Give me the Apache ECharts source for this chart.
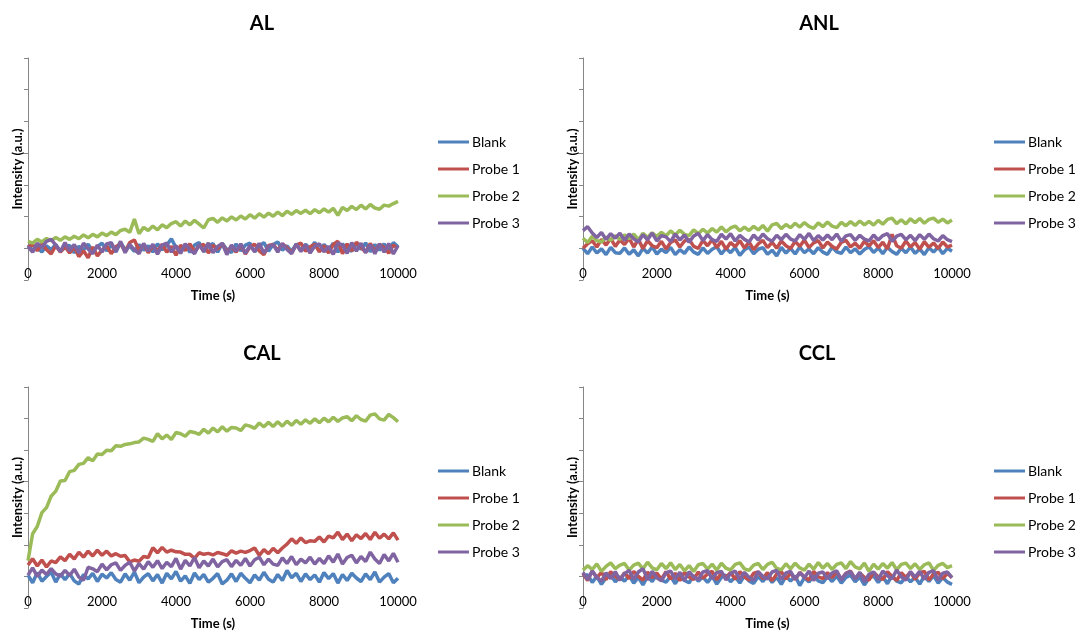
<!DOCTYPE html>
<html>
<head>
<meta charset="utf-8">
<title>Intensity vs time</title>
<script src="https://cdn.jsdelivr.net/npm/echarts@6/dist/echarts.min.js"></script>
<style>
  html, body { margin: 0; padding: 0; background: #fff; }
  #chart { width: 1077px; height: 632px; }
</style>
</head>
<body>
<div id="chart"></div>
<script>
/* ── data (intensity in y-tick units) ── */
const times = [
  0, 125, 250, 375, 500, 625, 750, 875, 1000,
  1125, 1250, 1375, 1500, 1625, 1750, 1875, 2000, 2125,
  2250, 2375, 2500, 2625, 2750, 2875, 3000, 3125, 3250,
  3375, 3500, 3625, 3750, 3875, 4000, 4125, 4250, 4375,
  4500, 4625, 4750, 4875, 5000, 5125, 5250, 5375, 5500,
  5625, 5750, 5875, 6000, 6125, 6250, 6375, 6500, 6625,
  6750, 6875, 7000, 7125, 7250, 7375, 7500, 7625, 7750,
  7875, 8000, 8125, 8250, 8375, 8500, 8625, 8750, 8875,
  9000, 9125, 9250, 9375, 9500, 9625, 9750, 9875, 10000
];
const seriesNames = ['Blank', 'Probe 1', 'Probe 2', 'Probe 3'];
const panelTitles = ['AL', 'ANL', 'CAL', 'CCL'];
const xTicks = [0, 2000, 4000, 6000, 8000, 10000];

// AL
const alBlank = [
  0.10, -0.06, 0.04, -0.12, 0.08, -0.04, 0.12, -0.10, 0.02,
  0.09, -0.14, 0.06, -0.05, 0.13, -0.11, 0.05, 0.16, -0.08,
  0.11, -0.12, 0.18, -0.04, 0.07, -0.10, 0.12, -0.06, 0.08,
  -0.12, 0.14, -0.05, 0.10, 0.30, 0.02, -0.09, 0.12, -0.13,
  0.10, 0.18, -0.11, 0.06, 0.15, -0.12, 0.16, -0.04, -0.13,
  0.14, -0.08, 0.10, 0.16, -0.11, 0.07, 0.18, -0.09, 0.12,
  0.20, -0.06, 0.08, -0.10, 0.14, -0.07, 0.13, -0.02, 0.19,
  -0.10, 0.12, -0.05, 0.16, -0.12, 0.14, -0.03, -0.09, 0.15,
  -0.04, 0.17, -0.11, 0.12, -0.06, 0.14, -0.10, 0.18, 0.05
];
const alProbe1 = [
  0.04, 0.12, -0.08, 0.14, -0.04, -0.18, 0.08, -0.12, 0.06,
  -0.15, 0.05, -0.26, -0.08, -0.30, 0.04, -0.24, -0.06, 0.08,
  -0.17, 0.05, 0.14, -0.10, 0.18, 0.26, -0.06, 0.12, -0.14,
  0.08, -0.09, 0.13, -0.12, 0.06, -0.22, 0.10, -0.07, 0.14,
  -0.10, 0.07, 0.12, -0.15, 0.09, -0.03, 0.15, -0.11, 0.06,
  -0.12, 0.10, -0.18, 0.05, 0.13, -0.08, -0.20, 0.09, 0.12,
  -0.06, 0.14, 0.02, -0.13, 0.10, 0.16, -0.09, 0.05, 0.13,
  -0.11, 0.08, -0.15, 0.12, 0.22, -0.17, 0.14, -0.08, 0.19,
  0.04, -0.13, 0.15, -0.09, 0.13, 0.02, -0.15, 0.10, 0.00
];
const alProbe2 = [
  0.22, 0.16, 0.28, 0.20, 0.31, 0.24, 0.34, 0.25, 0.36,
  0.28, 0.38, 0.30, 0.42, 0.33, 0.44, 0.36, 0.48, 0.40,
  0.51, 0.43, 0.56, 0.60, 0.50, 0.92, 0.46, 0.66, 0.56,
  0.70, 0.58, 0.74, 0.65, 0.78, 0.84, 0.70, 0.86, 0.74,
  0.88, 0.76, 0.64, 0.90, 0.94, 0.82, 0.96, 0.86, 0.99,
  0.89, 1.02, 0.92, 1.06, 0.95, 1.09, 0.98, 1.11, 1.01,
  1.14, 1.03, 1.17, 1.07, 1.19, 1.10, 1.20, 1.09, 1.22,
  1.12, 1.24, 1.14, 1.26, 1.04, 1.29, 1.19, 1.32, 1.22,
  1.36, 1.24, 1.38, 1.27, 1.23, 1.36, 1.33, 1.41, 1.48
];
const alProbe3 = [
  0.05, -0.12, 0.16, 0.02, 0.22, 0.28, 0.10, -0.10, 0.18,
  -0.08, 0.12, -0.15, 0.16, -0.02, -0.17, 0.10, -0.12, 0.14,
  0.18, -0.10, 0.22, -0.14, 0.12, -0.04, -0.17, 0.15, -0.09,
  0.13, -0.19, 0.10, 0.16, -0.12, 0.08, -0.16, 0.14, -0.04,
  -0.17, 0.12, -0.10, 0.17, -0.14, 0.06, 0.15, -0.20, 0.10,
  -0.09, 0.14, -0.16, 0.09, -0.11, 0.16, -0.15, 0.05, 0.12,
  -0.12, 0.15, -0.04, -0.17, 0.13, -0.10, 0.11, -0.15, 0.07,
  0.14, -0.11, 0.06, -0.19, 0.16, 0.10, -0.16, 0.18, -0.09,
  0.16, -0.14, 0.11, -0.17, 0.14, -0.12, 0.15, -0.18, 0.08
];

// ANL
const anlBlank = [
  0.00, -0.17, 0.04, -0.15, -0.02, -0.20, 0.03, -0.14, -0.16,
  0.01, -0.19, -0.05, -0.24, 0.00, -0.15, 0.04, -0.18, -0.03,
  -0.14, 0.03, -0.20, -0.04, -0.16, 0.04, -0.12, -0.19, 0.01,
  -0.16, -0.03, 0.05, -0.18, 0.00, -0.14, 0.03, -0.22, -0.05,
  0.04, -0.17, -0.03, 0.02, -0.19, -0.06, -0.24, 0.03, -0.15,
  0.00, -0.18, 0.04, -0.14, -0.02, -0.17, 0.02, -0.12, -0.19,
  0.03, -0.11, -0.16, 0.04, -0.14, -0.02, -0.18, -0.04, 0.05,
  -0.13, 0.01, -0.17, 0.03, -0.10, -0.19, 0.00, -0.14, 0.04,
  -0.16, -0.02, -0.20, 0.02, -0.12, 0.03, -0.17, 0.00, -0.09
];
const anlProbe1 = [
  0.00, 0.14, 0.24, 0.04, 0.28, 0.10, 0.31, 0.06, 0.26,
  0.12, 0.32, 0.04, 0.28, -0.01, 0.24, 0.08, 0.02, 0.22,
  -0.02, 0.18, 0.26, 0.04, 0.23, 0.28, 0.06, 0.00, 0.25,
  0.08, 0.27, 0.02, 0.22, -0.03, 0.18, 0.05, 0.24, 0.01,
  0.20, -0.04, 0.14, 0.25, 0.02, 0.19, 0.00, 0.23, 0.08,
  -0.01, 0.22, 0.06, 0.26, 0.02, 0.17, 0.24, 0.01, 0.20,
  0.06, -0.02, 0.19, 0.25, 0.04, 0.16, 0.00, 0.22, 0.07,
  0.24, 0.02, 0.19, -0.02, 0.44, 0.08, 0.00, 0.23, 0.04,
  0.18, -0.03, 0.21, 0.03, 0.17, -0.01, 0.20, 0.04, 0.10
];
const anlProbe2 = [
  0.32, 0.18, 0.38, 0.24, 0.20, 0.35, 0.25, 0.40, 0.28,
  0.42, 0.30, 0.45, 0.27, 0.47, 0.34, 0.49, 0.37, 0.50,
  0.39, 0.55, 0.42, 0.57, 0.44, 0.40, 0.58, 0.46, 0.60,
  0.48, 0.62, 0.51, 0.67, 0.52, 0.64, 0.70, 0.55, 0.67,
  0.56, 0.69, 0.58, 0.72, 0.54, 0.74, 0.78, 0.62, 0.75,
  0.65, 0.79, 0.67, 0.81, 0.69, 0.63, 0.80, 0.68, 0.83,
  0.70, 0.65, 0.82, 0.71, 0.84, 0.72, 0.86, 0.74, 0.85,
  0.73, 0.88, 0.76, 0.91, 0.95, 0.78, 0.90, 0.77, 0.93,
  0.81, 0.94, 0.79, 0.91, 0.95, 0.82, 0.92, 0.80, 0.89
];
const anlProbe3 = [
  0.56, 0.68, 0.48, 0.34, 0.50, 0.28, 0.46, 0.32, 0.48,
  0.25, 0.45, 0.30, 0.20, 0.43, 0.27, 0.48, 0.23, 0.40,
  0.36, 0.21, 0.45, 0.26, 0.42, 0.19, 0.39, 0.47, 0.24,
  0.43, 0.27, 0.22, 0.44, 0.29, 0.46, 0.23, 0.41, 0.28,
  0.20, 0.42, 0.26, 0.45, 0.30, 0.22, 0.41, 0.27, 0.44,
  0.29, 0.23, 0.43, 0.28, 0.47, 0.24, 0.40, 0.26, 0.42,
  0.27, 0.45, 0.22, 0.39, 0.43, 0.25, 0.41, 0.29, 0.23,
  0.42, 0.26, 0.40, 0.46, 0.22, 0.38, 0.44, 0.27, 0.41,
  0.24, 0.43, 0.28, 0.45, 0.30, 0.23, 0.40, 0.27, 0.21
];

// CAL
const calBlank = [
  0.04, -0.20, 0.12, -0.15, 0.00, 0.14, -0.18, 0.08, -0.10,
  0.09, -0.14, -0.24, 0.06, -0.08, 0.10, -0.16, 0.07, -0.05,
  0.12, -0.10, -0.18, 0.08, -0.12, 0.14, -0.20, -0.02, 0.09,
  -0.14, 0.06, -0.21, 0.10, -0.08, 0.16, -0.15, 0.02, -0.22,
  0.11, -0.10, 0.06, -0.18, -0.06, 0.09, -0.24, -0.12, 0.08,
  -0.16, 0.10, -0.06, -0.20, 0.05, -0.12, 0.13, -0.09, -0.18,
  0.06, -0.13, 0.19, -0.04, 0.10, -0.16, 0.08, -0.10, 0.05,
  -0.18, 0.12, -0.07, 0.09, -0.21, 0.06, -0.13, 0.10, -0.05,
  -0.16, 0.08, -0.10, 0.14, -0.18, -0.02, 0.09, -0.20, -0.06
];
const calProbe1 = [
  0.36, 0.56, 0.33, 0.52, 0.30, 0.49, 0.44, 0.62, 0.50,
  0.70, 0.55, 0.77, 0.61, 0.80, 0.65, 0.83, 0.67, 0.80,
  0.65, 0.72, 0.64, 0.66, 0.46, 0.52, 0.48, 0.63, 0.60,
  0.91, 0.75, 0.92, 0.77, 0.83, 0.78, 0.77, 0.70, 0.70,
  0.57, 0.75, 0.70, 0.73, 0.68, 0.76, 0.72, 0.67, 0.81,
  0.74, 0.80, 0.76, 0.82, 0.90, 0.67, 0.85, 0.72, 0.89,
  0.75, 0.90, 1.02, 1.19, 1.05, 1.22, 1.07, 1.13, 1.11,
  1.25, 1.09, 1.28, 1.22, 1.40, 1.17, 1.34, 1.13, 1.32,
  1.20, 1.36, 1.17, 1.40, 1.21, 1.34, 1.19, 1.38, 1.15
];
const calProbe2 = [
  0.50, 1.35, 1.58, 2.02, 2.18, 2.54, 2.70, 3.02, 3.04,
  3.32, 3.36, 3.55, 3.58, 3.76, 3.66, 3.88, 3.86, 4.00,
  3.98, 4.14, 4.12, 4.18, 4.20, 4.24, 4.26, 4.38, 4.34,
  4.28, 4.52, 4.36, 4.48, 4.34, 4.56, 4.52, 4.44, 4.59,
  4.56, 4.50, 4.66, 4.54, 4.70, 4.58, 4.74, 4.60, 4.72,
  4.70, 4.62, 4.80, 4.76, 4.69, 4.86, 4.74, 4.88, 4.75,
  4.90, 4.76, 4.92, 4.79, 4.94, 4.82, 4.96, 4.85, 4.99,
  4.87, 5.01, 4.90, 5.04, 4.91, 5.02, 5.06, 4.93, 5.09,
  4.97, 4.92, 5.11, 5.15, 4.99, 4.95, 5.13, 5.03, 4.90
];
const calProbe3 = [
  0.04, 0.27, 0.00, 0.20, 0.06, 0.25, 0.08, 0.01, 0.19,
  0.03, 0.23, -0.02, -0.12, 0.29, 0.24, 0.15, 0.39, 0.21,
  0.37, 0.43, 0.19, 0.35, 0.45, 0.17, 0.41, 0.23, 0.47,
  0.29, 0.50, 0.25, 0.45, 0.31, 0.57, 0.23, 0.51, 0.33,
  0.60, 0.27, 0.49, 0.33, 0.55, 0.30, 0.47, 0.53, 0.31,
  0.51, 0.35, 0.57, 0.33, 0.53, 0.61, 0.37, 0.55, 0.39,
  0.35, 0.59, 0.41, 0.63, 0.37, 0.55, 0.43, 0.61, 0.39,
  0.57, 0.41, 0.65, 0.45, 0.71, 0.39, 0.60, 0.67, 0.43,
  0.63, 0.47, 0.77, 0.55, 0.41, 0.69, 0.49, 0.73, 0.45
];

// CCL
const cclBlank = [
  -0.02, 0.06, -0.19, 0.00, -0.25, -0.04, 0.05, -0.17, -0.01,
  -0.15, 0.03, -0.21, -0.02, -0.27, 0.00, -0.16, 0.06, -0.12,
  -0.18, 0.00, -0.23, 0.02, -0.13, -0.20, 0.03, -0.15, -0.02,
  -0.19, 0.01, -0.24, -0.03, 0.04, -0.17, -0.01, -0.21, 0.02,
  -0.14, -0.22, 0.00, -0.16, 0.03, -0.19, -0.03, -0.25, 0.01,
  -0.15, 0.02, -0.29, -0.04, -0.18, 0.03, -0.14, -0.20, 0.00,
  -0.16, 0.01, -0.21, -0.03, 0.04, -0.17, -0.02, -0.27, -0.05,
  0.02, -0.19, -0.01, -0.23, 0.03, -0.15, -0.20, 0.00, -0.17,
  -0.03, -0.24, 0.01, -0.16, 0.03, -0.21, -0.04, -0.18, -0.25
];
const cclProbe1 = [
  0.09, -0.13, 0.17, -0.04, 0.13, -0.10, 0.15, 0.00, -0.11,
  0.12, -0.07, 0.16, 0.00, -0.12, 0.14, -0.04, 0.11, -0.09,
  0.15, -0.08, 0.10, -0.13, 0.13, -0.02, -0.10, 0.14, -0.06,
  0.08, 0.16, -0.11, 0.11, -0.04, 0.13, -0.09, 0.15, -0.01,
  -0.12, 0.10, 0.14, -0.07, 0.12, -0.14, 0.08, 0.15, -0.08,
  0.11, -0.10, 0.13, -0.02, -0.11, 0.16, -0.01, -0.07, 0.12,
  -0.04, 0.14, -0.09, 0.10, 0.17, -0.08, 0.11, -0.03, -0.12,
  0.13, -0.01, -0.10, 0.15, 0.00, -0.13, 0.12, -0.03, 0.14,
  -0.09, 0.11, 0.16, -0.11, 0.07, 0.13, -0.07, 0.10, -0.04
];
const cclProbe2 = [
  0.20, 0.34, 0.22, 0.40, 0.16, 0.32, 0.43, 0.25, 0.36,
  0.41, 0.20, 0.36, 0.42, 0.24, 0.45, 0.27, 0.21, 0.41,
  0.25, 0.43, 0.22, 0.38, 0.18, 0.34, 0.16, 0.37, 0.41,
  0.23, 0.39, 0.20, 0.42, 0.26, 0.21, 0.38, 0.43, 0.24,
  0.19, 0.36, 0.41, 0.22, 0.38, 0.45, 0.25, 0.21, 0.40,
  0.24, 0.42, 0.27, 0.20, 0.39, 0.23, 0.44, 0.26, 0.41,
  0.22, 0.38, 0.43, 0.25, 0.47, 0.30, 0.24, 0.42, 0.16,
  0.39, 0.23, 0.41, 0.26, 0.44, 0.21, 0.38, 0.42, 0.25,
  0.40, 0.22, 0.37, 0.43, 0.19, 0.35, 0.41, 0.28, 0.34
];
const cclProbe3 = [
  0.13, -0.10, 0.17, -0.03, -0.15, 0.11, -0.07, 0.15, -0.12,
  0.09, 0.19, -0.09, 0.14, 0.25, -0.11, 0.16, -0.04, -0.14,
  0.11, 0.17, -0.08, 0.13, -0.13, 0.15, -0.02, -0.10, 0.14,
  0.18, -0.07, 0.12, 0.16, -0.11, 0.09, 0.17, -0.09, 0.13,
  -0.03, -0.12, 0.15, 0.00, -0.08, 0.14, 0.19, -0.10, 0.11,
  0.16, -0.09, 0.12, -0.04, 0.17, -0.13, 0.10, 0.14, -0.07,
  0.11, 0.18, -0.11, 0.09, 0.15, -0.08, 0.13, -0.17, 0.07,
  0.14, -0.10, 0.17, 0.02, -0.07, 0.20, -0.01, -0.12, 0.15,
  -0.02, 0.16, -0.09, 0.13, 0.18, -0.11, 0.10, 0.14, -0.04
];

const panelData = [
  [alBlank, alProbe1, alProbe2, alProbe3],
  [anlBlank, anlProbe1, anlProbe2, anlProbe3],
  [calBlank, calProbe1, calProbe2, calProbe3],
  [cclBlank, cclProbe1, cclProbe2, cclProbe3]
];

/* ── look ── */
const COLORS = ['#4F81BD', '#C0504D', '#9BBB59', '#8064A2'];
const FONT = "Lato, 'Noto Sans', sans-serif";
const AXIS_GRAY = '#868686';

// plot boxes in px: [left, top, width, height]
const boxes = [
  [28, 58, 370, 222],
  [583, 58, 369, 222],
  [28, 387, 370, 221],
  [583, 387, 369, 221]
];
const legendLeft = [438, 994, 438, 994];
const titleCenters = [[262, 26], [819, 26], [262, 356], [817, 356]];

const chart = echarts.init(document.getElementById('chart'), null, { renderer: 'canvas' });

const grid = [], xAxis = [], yAxis = [], title = [], legend = [], series = [];

boxes.forEach(([l, t, w, h], i) => {
  grid.push({ left: l, top: t, width: w, height: h, containLabel: false });

  title.push({
    text: panelTitles[i],
    left: titleCenters[i][0],
    top: titleCenters[i][1] - 12,
    padding: 0,
    textAlign: 'center',
    textStyle: { fontFamily: FONT, fontWeight: 'bold', fontSize: 20, color: '#000' }
  });

  xAxis.push({
    gridIndex: i,
    type: 'value',
    min: xTicks[0],
    max: xTicks[xTicks.length - 1],
    interval: xTicks[1] - xTicks[0],
    name: 'Time (s)',
    nameLocation: 'middle',
    nameGap: 9,
    nameTextStyle: { fontFamily: FONT, fontWeight: 'bold', fontSize: 13, color: '#000' },
    axisLine: { show: false, onZero: false },
    axisTick: { show: false },
    splitLine: { show: false },
    axisLabel: {
      margin: -13, fontFamily: FONT, fontSize: 13, color: '#000',
      formatter: v => String(v)
    }
  });

  yAxis.push({
    gridIndex: i,
    type: 'value',
    min: -1,
    max: 6,
    interval: 1,
    name: 'Intensity (a.u.)',
    nameLocation: 'middle',
    nameGap: 4,
    nameTextStyle: { fontFamily: FONT, fontWeight: 'bold', fontSize: 13, color: '#000' },
    axisLine: { show: true, lineStyle: { color: AXIS_GRAY, width: 1 } },
    axisTick: { show: true, inside: false, length: 4, lineStyle: { color: AXIS_GRAY } },
    axisLabel: { show: false },
    splitLine: { show: false }
  });

  legend.push({
    orient: 'vertical',
    left: legendLeft[i],
    top: t + 77,
    padding: 0,
    icon: 'rect',
    itemWidth: 31,
    itemHeight: 3,
    itemGap: 13,
    data: seriesNames,
    textStyle: { fontFamily: FONT, fontSize: 14, color: '#000', padding: [0, 0, 0, -2] }
  });

  panelData[i].forEach((vals, k) => {
    series.push({
      name: seriesNames[k],
      type: 'line',
      xAxisIndex: i,
      yAxisIndex: i,
      data: times.map((tm, j) => [tm, vals[j]]),
      showSymbol: false,
      symbol: 'none',
      color: COLORS[k],
      lineStyle: { width: 3.5, color: COLORS[k] },
      emphasis: { disabled: true }
    });
  });
});

chart.setOption({
  animation: false,
  backgroundColor: '#fff',
  title, grid, xAxis, yAxis, legend, series
});
</script>
</body>
</html>
